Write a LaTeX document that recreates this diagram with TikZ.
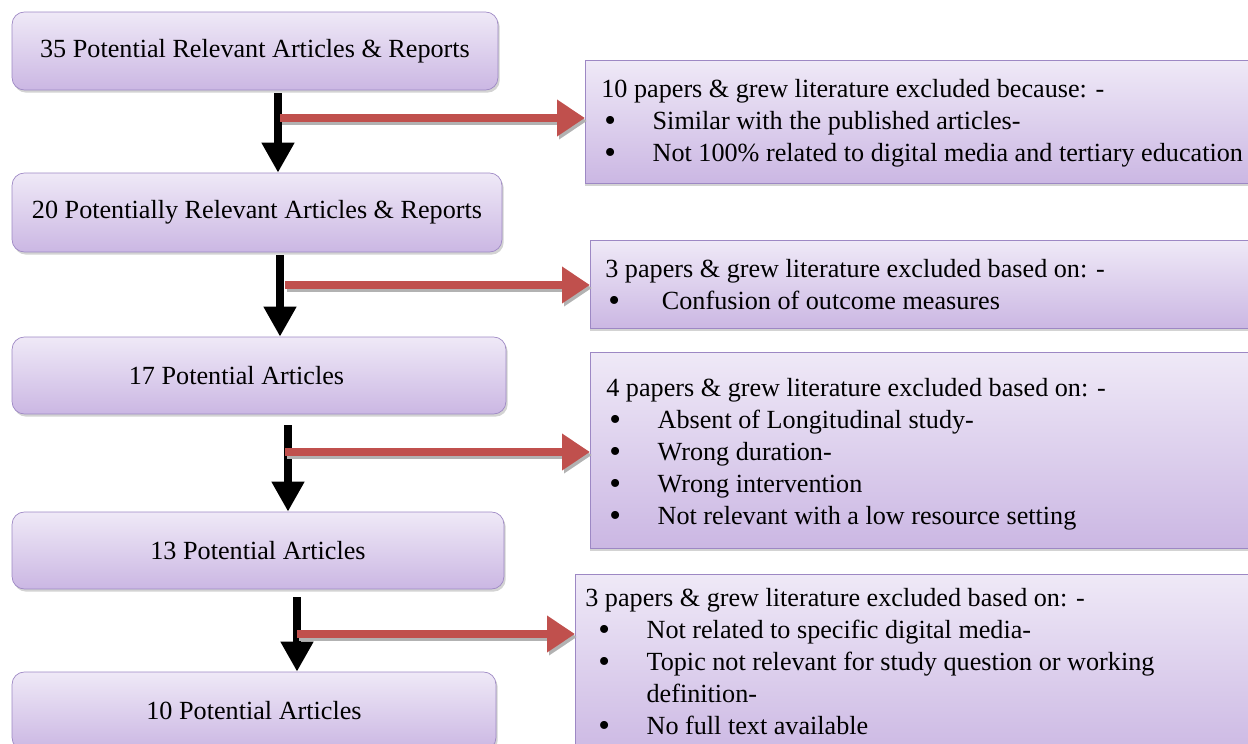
\documentclass[tikz,border=0pt]{standalone}
\usepackage{fontspec}
\setmainfont{Liberation Serif}
\newfontfamily\timesfont{Liberation Serif}
\usetikzlibrary{arrows.meta,positioning,shadows,calc}

\definecolor{boxtop}{HTML}{EFE9F7}
\definecolor{boxbot}{HTML}{CBB7E3}
\definecolor{boxline}{HTML}{9D88C4}
\definecolor{exclred}{HTML}{C0504D}

% bullet with its own indent
\newcommand{\bul}[1][0.12em]{\hspace*{#1}\makebox[1.84em][l]{\raisebox{-0.08em}{\fontsize{19}{19}\selectfont\textbullet}}}

\tikzset{
  stage/.style={draw=boxline, rounded corners=7pt, top color=boxtop, bottom color=boxbot,
    drop shadow={shadow xshift=1pt, shadow yshift=-1.5pt, opacity=0.35},
    inner sep=0pt, font=\timesfont\fontsize{14.9}{18.2}\selectfont},
  exclbox/.style={draw=boxline, top color=boxtop, bottom color=boxbot, anchor=north west,
    drop shadow={shadow xshift=0pt, shadow yshift=-1.5pt, opacity=0.35}, inner sep=0pt},
  excltext/.style={anchor=north west, inner sep=0pt, align=left, font=\timesfont\fontsize{14.9}{18.2}\selectfont},
  flow/.style={line width=4.5pt, -{Triangle[length=0.6cm,width=0.62cm]}},
  excl/.style={draw=exclred, line width=4.5pt, -{Triangle[length=0.56cm,width=0.7cm]}},
  exclshade/.style={draw=black!30, line width=4.5pt, -{Triangle[length=0.56cm,width=0.7cm]}}
}

\begin{document}
\begin{tikzpicture}[x=0.02cm, y=-0.02cm]
  \useasboundingbox (0,0) rectangle (1248,744);
  % screening stages
  \node[stage, minimum width=9.72cm, minimum height=1.56cm] (b35) at (255,51) {35 Potential Relevant Articles \& Reports};
  \node[stage, minimum width=9.8cm, minimum height=1.58cm] (b20) at (257,212.5) {20 Potentially Relevant Articles \& Reports};
  \node[stage, minimum width=9.88cm, minimum height=1.54cm] (b17) at (259,375.5) {17 Potential Articles\hspace*{0.9cm}};
  \node[stage, minimum width=9.84cm, minimum height=1.54cm] (b13) at (258,550.5) {13 Potential Articles};
  \node[stage, minimum width=9.68cm, minimum height=1.56cm] (b10) at (254,711) {10 Potential Articles};
  % exclusion boxes
  \node[exclbox, minimum width=13.6cm, minimum height=2.46cm] (x10) at (585,60) {};
  \node[exclbox, minimum width=13.2cm, minimum height=1.76cm] (x3a) at (590,240) {};
  \node[exclbox, minimum width=13.2cm, minimum height=3.92cm] (x4) at (590,352) {};
  \node[exclbox, minimum width=13.6cm, minimum height=3.72cm] (x3b) at (575,574) {};
  \node[excltext] (t10) at ($(x10.north west)+(16,19)$) {10 papers \& grew literature excluded because: -\\
    \bul Similar with the published articles-\\
    \bul Not 100\% related to digital media and tertiary education};
  \node[excltext] (t3a) at ($(x3a.north west)+(15,19)$) {3 papers \& grew literature excluded based on: -\\
    \bul\hspace*{0.2em}Confusion of outcome measures};
  \node[excltext] (t4) at ($(x4.north west)+(16,26)$) {4 papers \& grew literature excluded based on: -\\
    \bul Absent of Longitudinal study-\\
    \bul Wrong duration-\\
    \bul Wrong intervention\\
    \bul Not relevant with a low resource setting};
  \node[excltext] (t3b) at ($(x3b.north west)+(10,14)$) {3 papers \& grew literature excluded based on: -\\
    \bul[0.5em]Not related to specific digital media-\\
    \bul[0.5em]Topic not relevant for study question or working\\
    \hspace*{2.34em}definition-\\
    \bul[0.5em]No full text available};
  % downward flow
  \coordinate (s1) at (278,93);
  \coordinate (s2) at (280,255);
  \coordinate (s3) at (288,425);
  \coordinate (s4) at (297,597);
  \draw[flow] (s1) -- (s1 |- b20.north);
  \draw[flow] (s2) -- (s2 |- b17.north);
  \draw[flow] (s3) -- (s3 |- b13.north);
  \draw[flow] (s4) -- (s4 |- b10.north);
  % exclusions
  \coordinate (r1) at (280,118);
  \coordinate (r2) at (285,285);
  \coordinate (r3) at (285,452);
  \coordinate (r4) at (297,634);
  \draw[exclshade] ([shift={(2,3)}]r1) -- ([shift={(2,3)}]r1 -| x10.west);
  \draw[exclshade] ([shift={(2,3)}]r2) -- ([shift={(2,3)}]r2 -| x3a.west);
  \draw[exclshade] ([shift={(2,3)}]r3) -- ([shift={(2,3)}]r3 -| x4.west);
  \draw[exclshade] ([shift={(2,3)}]r4) -- ([shift={(2,3)}]r4 -| x3b.west);
  \draw[excl] (r1) -- (r1 -| x10.west);
  \draw[excl] (r2) -- (r2 -| x3a.west);
  \draw[excl] (r3) -- (r3 -| x4.west);
  \draw[excl] (r4) -- (r4 -| x3b.west);
\end{tikzpicture}
\end{document}
